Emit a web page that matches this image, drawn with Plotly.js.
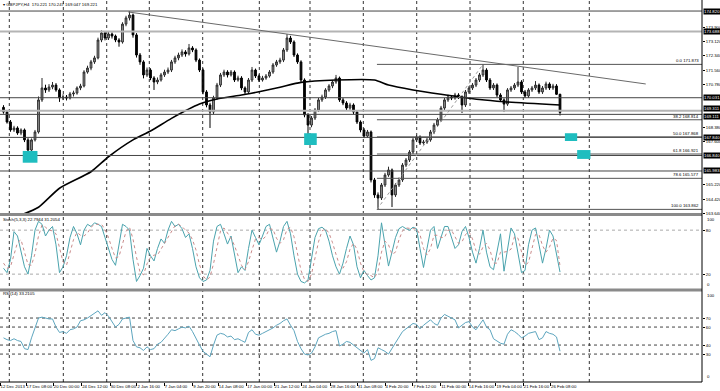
<!DOCTYPE html>
<html><head><meta charset="utf-8">
<script src="https://cdn.plot.ly/plotly-3.0.1.min.js"></script>
<style>html,body{margin:0;padding:0;background:#fff}#chart{width:720px;height:391px}</style>
</head><body><div id="chart"></div>
<script>
// ---- OHLC (GBPJPY H4, aggregated) ----
const opens=[169.50,169.24,168.69,168.25,168.36,168.08,168.25,167.70,167.14,167.70,
168.14,169.91,170.57,170.46,170.62,170.73,170.46,170.02,170.07,170.02,
170.24,170.29,170.57,170.68,171.45,171.67,172.01,172.23,173.22,173.61,
173.33,173.55,173.44,173.22,173.11,174.10,174.44,174.60,173.50,172.39,
172.01,171.29,171.56,171.12,170.90,171.01,171.29,171.45,171.56,172.01,
172.23,172.39,172.56,172.45,172.78,172.67,172.11,171.56,170.35,169.63,
169.24,170.02,170.73,171.29,171.45,171.29,171.45,171.01,171.12,170.57,
170.35,171.01,171.56,171.23,171.01,171.12,171.23,171.45,171.84,172.01,
172.11,172.67,173.33,173.11,172.39,172.01,171.01,169.08,168.52,168.91,
169.35,169.91,170.07,170.46,170.68,170.90,171.12,169.91,169.74,169.46,
169.63,169.24,168.69,168.25,167.91,168.14,165.49,164.66,164.49,165.21,
165.76,166.04,164.66,165.21,165.49,166.31,166.59,167.03,167.70,167.86,
167.53,167.58,167.70,168.14,168.52,168.80,169.46,169.91,170.07,170.02,
170.18,170.07,169.63,170.35,170.57,170.73,171.01,171.29,171.56,171.01,
170.57,170.73,170.18,169.91,169.68,170.46,170.57,170.73,170.90,170.35,
170.13,170.46,170.57,170.73,170.35,170.57,170.79,170.57,170.68,170.22];
const highs=[169.62,169.35,168.80,168.48,168.45,168.34,168.33,167.80,167.78,168.25,
170.10,171.12,170.75,170.78,170.90,170.84,170.55,170.22,170.18,170.35,
170.42,170.66,170.80,171.55,171.80,172.12,172.35,173.35,173.75,173.70,
173.66,173.64,173.52,173.32,174.20,174.56,174.80,174.68,173.60,172.50,
172.10,171.70,171.66,171.22,171.15,171.40,171.58,171.70,172.12,172.35,
172.52,172.70,172.66,173.00,172.88,172.76,172.20,171.65,170.45,169.75,
170.14,170.85,171.40,171.58,171.55,171.56,171.54,171.25,171.22,170.66,
171.12,171.73,171.64,171.32,171.24,171.34,171.56,171.95,172.12,172.24,
172.78,173.55,173.45,173.20,172.48,172.10,171.10,169.18,169.02,169.46,
170.02,170.20,170.56,170.78,171.00,171.29,171.20,170.02,169.84,169.75,
169.72,169.34,168.78,168.36,168.25,168.22,165.60,164.80,165.32,165.88,
166.22,166.12,165.32,165.62,166.42,166.70,167.14,167.82,167.98,167.95,
167.70,167.82,168.25,168.64,168.92,169.58,170.02,170.20,170.18,170.30,
170.28,170.16,170.46,170.68,170.84,171.12,171.40,171.87,171.66,171.12,
170.84,170.82,170.28,170.00,170.56,170.68,170.84,171.73,171.00,170.46,
170.56,170.68,170.95,170.82,170.68,170.92,170.88,170.80,170.78,170.25];
const lows=[169.15,168.60,168.15,168.14,167.98,167.96,167.58,166.87,167.02,167.61,
168.05,169.80,170.30,170.35,170.50,170.36,169.80,169.90,169.88,169.93,
170.10,170.20,170.45,170.60,171.36,171.55,171.90,172.15,173.10,173.20,
173.22,173.30,173.10,172.85,173.02,173.98,174.30,173.35,172.25,171.85,
171.10,171.18,171.00,170.46,170.78,170.92,171.18,171.34,171.45,171.90,
172.10,172.28,172.30,172.36,172.55,172.00,171.45,170.22,169.50,168.36,
169.12,169.92,170.62,171.18,171.15,171.20,170.90,170.92,170.45,170.18,
170.25,170.90,171.12,170.90,170.92,171.02,171.14,171.35,171.74,171.90,
172.00,172.56,173.00,172.28,171.90,170.90,168.95,167.58,168.40,168.80,
169.24,169.80,169.96,170.36,170.56,170.80,169.80,169.62,169.35,169.36,
169.12,168.58,168.12,167.80,167.82,165.35,164.50,163.87,164.38,165.10,
165.66,163.99,164.55,165.10,165.38,166.20,166.48,166.92,167.58,167.42,
167.44,167.48,167.60,168.02,168.42,168.70,169.35,169.80,169.90,169.92,
169.96,169.19,169.52,170.24,170.46,170.62,170.90,171.18,170.90,170.46,
170.46,170.06,169.80,169.24,169.58,170.35,170.46,170.62,170.24,170.02,
170.02,170.35,170.46,170.24,170.24,170.46,170.46,170.46,170.18,169.05];
const closes=[169.24,168.69,168.25,168.36,168.08,168.25,167.70,167.14,167.70,168.14,
169.91,170.57,170.46,170.62,170.73,170.46,170.02,170.07,170.02,170.24,
170.29,170.57,170.68,171.45,171.67,172.01,172.23,173.22,173.61,173.33,
173.55,173.44,173.22,173.11,174.10,174.44,174.60,173.50,172.39,172.01,
171.29,171.56,171.12,170.90,171.01,171.29,171.45,171.56,172.01,172.23,
172.39,172.56,172.45,172.78,172.67,172.11,171.56,170.35,169.63,169.24,
170.02,170.73,171.29,171.45,171.29,171.45,171.01,171.12,170.57,170.35,
171.01,171.56,171.23,171.01,171.12,171.23,171.45,171.84,172.01,172.11,
172.67,173.33,173.11,172.39,172.01,171.01,169.08,168.52,168.91,169.35,
169.91,170.07,170.46,170.68,170.90,171.12,169.91,169.74,169.46,169.63,
169.24,168.69,168.25,167.91,168.14,165.49,164.66,164.49,165.21,165.76,
166.04,164.66,165.21,165.49,166.31,166.59,167.03,167.70,167.86,167.53,
167.58,167.70,168.14,168.52,168.80,169.46,169.91,170.07,170.02,170.18,
170.07,169.63,170.35,170.57,170.73,171.01,171.29,171.56,171.01,170.57,
170.73,170.18,169.91,169.68,170.46,170.57,170.73,170.90,170.35,170.13,
170.46,170.57,170.73,170.35,170.57,170.79,170.57,170.68,170.22,169.22];

// ---- moving average (sampled points: bar index, value) ----
const maIdx=[5,10,16,25,30,37,42,48,56,61,68,73,79,85,95,106,110,117,125,136,143,159];
const maVal=[163.55,163.98,165.03,165.94,166.77,167.70,168.19,168.89,169.68,169.96,170.18,170.36,170.61,170.88,171.01,171.01,170.73,170.46,170.22,169.93,169.81,169.63];

// ---- Stochastic (5,3,3) ----
const stochK=[28,22,40,78,72,50,30,20,45,80,92,88,72,80,85,60,22,30,45,70,
85,75,60,80,88,85,90,88,85,70,55,40,32,60,88,85,80,40,10,18,
28,55,45,38,55,68,62,80,92,85,88,82,70,75,55,30,15,10,12,25,
65,85,88,75,61,72,45,22,30,25,55,80,70,60,72,85,88,70,50,65,
85,92,75,45,20,10,8,12,40,70,82,84,80,65,45,30,20,35,55,72,
60,30,15,25,18,12,15,45,90,60,31,50,70,82,85,82,80,84,82,55,
29,55,80,85,55,70,85,85,70,55,60,78,85,70,50,35,55,80,50,30,
26,50,75,24,55,83,75,50,22,25,60,80,83,60,35,55,80,72,45,22.79];
const stochD=[35,28,30,47,63,67,51,33,32,48,72,87,84,80,79,75,56,37,32,48,
67,77,73,72,76,84,88,88,88,81,70,55,42,44,60,78,84,68,43,23,
19,34,43,46,46,54,62,70,78,86,88,85,80,76,67,53,33,18,12,16,
34,58,79,83,75,69,59,46,32,26,37,53,68,70,67,72,82,81,69,62,
67,81,84,71,47,25,13,10,20,41,64,79,82,76,63,47,32,28,37,54,
62,54,35,23,19,18,15,24,50,65,60,47,50,67,79,83,82,82,82,74,
55,46,55,73,73,70,70,80,80,70,62,64,74,78,68,52,47,57,62,53,
35,35,50,50,51,54,71,69,49,32,36,55,74,74,59,50,57,69,66,31.21];

// ---- RSI(14) ----
const rsi=[48,46,45,47,45,44,36,35,48,58,70,71,70,69,69,60,54,55,53,57,
58,60,67,68,70,73,75,78,73,76,72,66,60,63,69,70,71,45,38,37,
34,38,35,36,41,43,47,52,57,56,58,60,59,61,55,47,40,33,30,27,
40,51,53,52,49,50,46,47,45,43,54,57,52,51,53,55,57,59,62,64,
67,69,62,56,44,36,30,29,31,38,48,50,52,53,55,56,39,41,44,43,
40,36,33,31,35,23,25,37,35,33,30,36,42,48,55,58,61,64,63,58,
62,65,68,64,62,70,74,72,70,68,59,62,65,66,60,57,63,68,60,57,
47,44,42,41,52,57,55,52,48,50,53,54,55,46,48,55,53,52,49,33.21];

// ---- axis labels ----
const xTickVals=[-1,6.43,14.23,22.34,30.43,38.14,45.94,54.06,61.37,69.49,77.29,85.2,93.29,101,109,116.9,124.9,132.8,140.7,148.5,156.3];
const xTickText=['12 Dec 2013','17 Dec 08:00','20 Dec 00:00','24 Dec 12:00','30 Dec 08:00','2 Jan 16:00','7 Jan 04:00','9 Jan 20:00','14 Jan 08:00','17 Jan 00:00','21 Jan 12:00','24 Jan 04:00','28 Jan 16:00','31 Jan 08:00','4 Feb 20:00','7 Feb 12:00','11 Feb 00:00','14 Feb 16:00','19 Feb 04:00','21 Feb 16:00','26 Feb 08:00'];
const priceTicks=[173.900,173.120,172.340,171.560,170.780,168.380,167.600,165.220,164.420,163.640];
const stochTicks=[20,80];
const stochEdge=[100,0];
const rsiTicks=[30,40,60,70];
const rsiEdge=[100,0];

// ---- drawn objects ----
const darkLevels=[174.820,170.031,169.111,167.840,166.840,165.983];
const lightLevels=[173.688,169.311];
const fibPct=['0.0','38.2','50.0','61.8','78.6','100.0'];
const fibLevels=[171.873,168.814,167.868,166.921,165.577,163.862];
const fibStart=106.7, fibHighIdx=137;
const trendLine={x0:35.6,y0:174.77,x1:183.5,y1:170.79};
const zones=[[5.5,9.7,166.44,167.09],[85.9,89.5,167.42,168.07],[160.4,163.9,167.64,168.07],[163.9,167.7,166.65,167.14]];
const gridIdx=[1.66,17.09,29.49,41.66,56.91,73.09,87.57,102.8,118.06,133.29,148.51,167.37];

const idx=closes.map((_,i)=>i);
const XMAX=702/3.5-1;
const FONT='Liberation Sans, Arial, sans-serif';
const FS=4.3;

const traces=[
 {type:'candlestick',x:idx,open:opens,high:highs,low:lows,close:closes,xaxis:'x',yaxis:'y',
  increasing:{line:{color:'#2a2a2a',width:1},fillcolor:'#a0a0a0'},
  decreasing:{line:{color:'#000',width:1},fillcolor:'#000'},whiskerwidth:0,hoverinfo:'skip'},
 {type:'scatter',mode:'lines',x:maIdx,y:maVal,xaxis:'x',yaxis:'y',line:{color:'#000',width:1.6,shape:'spline',smoothing:0.6},hoverinfo:'skip'},
 {type:'scatter',mode:'lines',x:idx,y:stochK,xaxis:'x',yaxis:'y2',line:{color:'#4aa3ad',width:1},hoverinfo:'skip'},
 {type:'scatter',mode:'lines',x:idx,y:stochD,xaxis:'x',yaxis:'y2',line:{color:'#c98a8a',width:1,dash:'dot'},hoverinfo:'skip'},
 {type:'scatter',mode:'lines',x:idx,y:rsi,xaxis:'x',yaxis:'y3',line:{color:'#5ea6bf',width:1},hoverinfo:'skip'}
];

const shapes=[];
gridIdx.forEach(g=>shapes.push({type:'line',xref:'x',yref:'paper',x0:g,x1:g,y0:0,y1:1,line:{color:'#333',width:1,dash:'dot'},layer:'below'}));
[20,80].forEach(v=>shapes.push({type:'line',xref:'paper',yref:'y2',x0:0,x1:1,y0:v,y1:v,line:{color:'#aaa',width:1,dash:'dot'},layer:'below'}));
[30,40,60,70].forEach(v=>shapes.push({type:'line',xref:'paper',yref:'y3',x0:0,x1:1,y0:v,y1:v,line:{color:'#444',width:1,dash:'dot'},layer:'below'}));
darkLevels.forEach(v=>shapes.push({type:'line',xref:'paper',yref:'y',x0:0,x1:1,y0:v,y1:v,line:{color:'#444',width:1}}));
lightLevels.forEach(v=>shapes.push({type:'line',xref:'paper',yref:'y',x0:0,x1:1,y0:v,y1:v,line:{color:'#b4b4b4',width:2}}));
fibLevels.forEach(v=>shapes.push({type:'line',xref:'x',yref:'y',x0:fibStart,x1:XMAX,y0:v,y1:v,line:{color:'#555',width:1}}));
shapes.push({type:'line',xref:'x',yref:'y',x0:fibStart,y0:fibLevels[fibLevels.length-1],x1:fibHighIdx,y1:fibLevels[0],line:{color:'#999',width:1,dash:'dot'}});
shapes.push({type:'line',xref:'x',yref:'y',x0:trendLine.x0,y0:trendLine.y0,x1:trendLine.x1,y1:trendLine.y1,line:{color:'#6a6a6a',width:1}});
zones.forEach(z=>shapes.push({type:'rect',xref:'x',yref:'y',x0:z[0],x1:z[1],y0:z[2],y1:z[3],fillcolor:'#1fbdbf',line:{width:0}}));
// panel separators and frame
shapes.push({type:'line',xref:'paper',yref:'paper',x0:0,x1:1,y0:0.4385,y1:0.4385,line:{color:'#8a8a8a',width:3}});
shapes.push({type:'line',xref:'paper',yref:'paper',x0:0,x1:1,y0:0.2408,y1:0.2408,line:{color:'#8a8a8a',width:3}});
shapes.push({type:'line',xref:'paper',yref:'paper',x0:1,x1:1,y0:0,y1:1,line:{color:'#000',width:1}});
shapes.push({type:'line',xref:'paper',yref:'paper',x0:0,x1:1,y0:0,y1:0,line:{color:'#000',width:1}});

const annotations=[];
const txt=(o)=>annotations.push(Object.assign({showarrow:false,font:{size:FS,color:'#000',family:FONT}},o));
txt({xref:'paper',yref:'paper',x:0.002,y:0.987,xanchor:'left',yanchor:'middle',text:'▾ GBPJPY,H4  170.221 170.247 169.047 169.221'});
txt({xref:'paper',yref:'paper',x:0.002,y:0.4267,xanchor:'left',yanchor:'middle',text:'Stoch(5,3,3) 22.7944 31.2054'});
txt({xref:'paper',yref:'paper',x:0.002,y:0.2304,xanchor:'left',yanchor:'middle',text:'RSI(14) 33.2105'});
// edge labels of the indicator panels (drawn inside, like the terminal does)
stochEdge.forEach((v,k)=>txt({xref:'paper',yref:'y2',x:1,y:v,xanchor:'left',yanchor:k===0?'top':'bottom',xshift:3,text:String(v)}));
rsiEdge.forEach((v,k)=>txt({xref:'paper',yref:'y3',x:1,y:v,xanchor:'left',yanchor:k===0?'top':'bottom',xshift:3,text:String(v)}));
const hl=darkLevels.concat(lightLevels);
hl.forEach(v=>{
  let ys=0; if(v===169.311) ys=2.5; if(v===169.111) ys=-2.5;
  annotations.push({xref:'paper',yref:'y',x:1,y:v,xanchor:'left',yanchor:'middle',xshift:1,yshift:ys,showarrow:false,
  text:v.toFixed(3),bgcolor:'#000',borderpad:0,font:{size:FS,color:'#fff',family:FONT}});
});
fibLevels.forEach((v,k)=>txt({xref:'paper',yref:'y',x:1,y:v,xanchor:'right',yanchor:'bottom',xshift:-1,yshift:-1,text:fibPct[k]+' '+v.toFixed(3)}));

const axBase={showgrid:false,zeroline:false,showline:false,ticks:'outside',ticklen:2,tickcolor:'#000',tickfont:{size:FS,color:'#000',family:FONT}};
const layout={
 width:720,height:391,margin:{l:0,r:18,t:0,b:9},paper_bgcolor:'#fff',plot_bgcolor:'#fff',showlegend:false,
 font:{family:FONT,size:FS,color:'#000'},
 xaxis:Object.assign({},axBase,{range:[-1,XMAX],anchor:'y3',tickmode:'array',tickvals:xTickVals,ticktext:xTickText,tickangle:0,
   ticklabelposition:'outside right',ticklen:3,rangeslider:{visible:false},fixedrange:true}),
 yaxis:Object.assign({},axBase,{domain:[0.4398,1],range:[163.607,175.43],side:'right',anchor:'x',tickmode:'array',tickvals:priceTicks,ticktext:priceTicks.map(v=>v.toFixed(3))}),
 yaxis2:Object.assign({},axBase,{domain:[0.2421,0.4359],range:[-1,100],side:'right',anchor:'x',tickmode:'array',tickvals:stochTicks,ticktext:stochTicks.map(String)}),
 yaxis3:Object.assign({},axBase,{domain:[0,0.2382],range:[-1,100],side:'right',anchor:'x',tickmode:'array',tickvals:rsiTicks,ticktext:rsiTicks.map(String)}),
 shapes:shapes,annotations:annotations
};
Plotly.newPlot('chart',traces,layout,{staticPlot:true,displayModeBar:false});
</script></body></html>
